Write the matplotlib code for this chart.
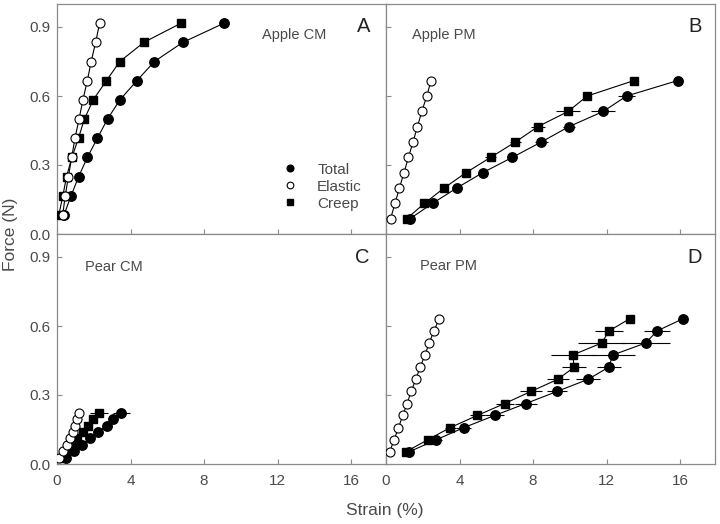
import matplotlib
matplotlib.use("Agg")
import matplotlib.pyplot as plt
from matplotlib.lines import Line2D

plt.rcParams["font.family"] = ["Liberation Sans", "DejaVu Sans"]

# ---- data (strain %, force N) ----
# A: Apple CM
force_a = [0.083, 0.167, 0.25, 0.333, 0.417, 0.5, 0.583, 0.667, 0.75, 0.833, 0.917]
total_a = [0.38, 0.77, 1.18, 1.65, 2.2, 2.75, 3.42, 4.35, 5.3, 6.84, 9.1]
total_a_err = [0, 0, 0, 0, 0, 0, 0.1, 0.1, 0.25, 0.15, 0]
elastic_a = [0.31, 0.45, 0.62, 0.8, 0.98, 1.2, 1.41, 1.65, 1.86, 2.1, 2.32]
creep_a = [0.1, 0.32, 0.52, 0.81, 1.17, 1.49, 1.97, 2.69, 3.42, 4.72, 6.76]
creep_a_err = [0, 0, 0, 0, 0, 0, 0, 0.1, 0.2, 0.2, 0]

# B: Apple PM
force_b = [0.067, 0.133, 0.2, 0.267, 0.333, 0.4, 0.467, 0.533, 0.6, 0.667]
total_b = [1.31, 2.53, 3.85, 5.27, 6.87, 8.45, 9.96, 11.82, 13.09, 15.87]
total_b_err = [0, 0.1, 0.1, 0.25, 0.2, 0.35, 0.35, 0.65, 0.45, 0]
elastic_b = [0.25, 0.49, 0.73, 0.98, 1.22, 1.47, 1.71, 1.95, 2.22, 2.45]
creep_b = [1.13, 2.09, 3.16, 4.36, 5.69, 7.04, 8.27, 9.91, 10.95, 13.49]
creep_b_err = [0, 0.1, 0.1, 0.2, 0.3, 0.3, 0.4, 0.65, 0, 0]

# C: Pear CM
force_c = [0.028, 0.056, 0.083, 0.111, 0.139, 0.167, 0.194, 0.222]
total_c = [0.49, 0.94, 1.34, 1.78, 2.22, 2.7, 3.06, 3.5]
total_c_err = [0, 0, 0, 0, 0, 0, 0, 0.45]
elastic_c = [0.12, 0.33, 0.55, 0.72, 0.87, 0.98, 1.08, 1.22]
creep_c = [0.3, 0.6, 0.85, 1.1, 1.4, 1.7, 1.95, 2.3]
creep_c_err = [0, 0, 0, 0, 0, 0, 0, 0.5]

# D: Pear PM
force_d = [0.053, 0.105, 0.158, 0.211, 0.263, 0.316, 0.368, 0.421, 0.474, 0.526, 0.579, 0.632]
total_d = [1.26, 2.72, 4.23, 5.91, 7.61, 9.32, 10.99, 12.12, 12.34, 14.12, 14.76, 16.17]
total_d_err = [0, 0.3, 0.4, 0.5, 0.6, 0.55, 0.65, 0.65, 1.2, 1.35, 0.7, 0]
elastic_d = [0.2, 0.44, 0.68, 0.91, 1.15, 1.37, 1.62, 1.86, 2.12, 2.35, 2.61, 2.9]
creep_d = [1.08, 2.26, 3.49, 4.96, 6.46, 7.9, 9.34, 10.24, 10.16, 11.73, 12.14, 13.27]
creep_d_err = [0, 0, 0.3, 0.4, 0.5, 0.6, 0.6, 0.65, 1.2, 1.3, 0.75, 0]

x_ticks = [0, 4, 8, 12, 16]
y_ticks = [0.0, 0.3, 0.6, 0.9]

GRAY = "#8a8a8a"
TXT = "#4a4a4a"


def draw(ax, force, total, total_err, elastic, creep, creep_err):
    ax.errorbar(total, force, xerr=total_err, fmt="-o", color="k", mfc="k", mec="k",
                ms=6.8, lw=0.8, elinewidth=0.8, capsize=0, zorder=3)
    ax.errorbar(creep, force, xerr=creep_err, fmt="-s", color="k", mfc="k", mec="k",
                ms=6.2, lw=0.8, elinewidth=0.8, capsize=0, zorder=3)
    ax.plot(elastic, force, "-o", color="k", mfc="white", mec="k", ms=6.5, lw=0.8,
            mew=0.8, zorder=4)


fig = plt.figure(figsize=(7.2, 5.24), dpi=100)
W, H = 720.0, 524.0
x0, xm, x1 = 57, 386, 715
y0, ym, y1 = 4, 234, 464
boxes = {
    "A": (x0, y0, xm, ym), "B": (xm, y0, x1, ym),
    "C": (x0, ym, xm, y1), "D": (xm, ym, x1, y1),
}
axes = {}
for k, (l, t, r, b) in boxes.items():
    axes[k] = fig.add_axes([l / W, 1 - b / H, (r - l) / W, (b - t) / H])

panels = {
    "A": (force_a, total_a, total_a_err, elastic_a, creep_a, creep_a_err),
    "B": (force_b, total_b, total_b_err, elastic_b, creep_b, creep_b_err),
    "C": (force_c, total_c, total_c_err, elastic_c, creep_c, creep_c_err),
    "D": (force_d, total_d, total_d_err, elastic_d, creep_d, creep_d_err),
}
names = {"A": "Apple CM", "B": "Apple PM", "C": "Pear CM", "D": "Pear PM"}
name_pos = {"A": (0.623, 0.865), "B": (0.079, 0.865), "C": (0.085, 0.857), "D": (0.103, 0.861)}
letter_pos = {"A": (0.951, 0.90), "B": (0.960, 0.90), "C": (0.951, 0.896), "D": (0.960, 0.896)}

for k, ax in axes.items():
    draw(ax, *panels[k])
    ax.set_xlim(0, 17.9)
    ax.set_ylim(0, 1.0)
    ax.set_xticks(x_ticks)
    ax.set_yticks(y_ticks)
    ax.set_yticklabels([f"{v:.1f}" for v in y_ticks])
    ax.tick_params(direction="in", length=3.5, width=0.8, color=GRAY, labelcolor=TXT,
                   labelsize=11)
    ax.tick_params(axis="x", pad=7.5)
    ax.tick_params(axis="y", pad=5)
    for s in ax.spines.values():
        s.set_color(GRAY)
        s.set_linewidth(0.9)
    if k in ("A", "B"):
        ax.tick_params(labelbottom=False)
    if k in ("B", "D"):
        ax.tick_params(labelleft=False)
    ax.text(*name_pos[k], names[k], transform=ax.transAxes, fontsize=10.5,
            color=TXT, ha="left", va="center")
    ax.text(*letter_pos[k], k, transform=ax.transAxes, fontsize=14.5,
            color="#222222", ha="right", va="center")

handles = [
    Line2D([], [], ls="none", marker="o", color="k", mfc="k", ms=4.8),
    Line2D([], [], ls="none", marker="o", color="k", mfc="white", ms=4.8, mew=0.8),
    Line2D([], [], ls="none", marker="s", color="k", mfc="k", ms=4.4),
]
axes["A"].legend(handles, ["Total", "Elastic", "Creep"], loc="upper left",
                 bbox_to_anchor=(0.684, 0.31), frameon=False, fontsize=11,
                 handlelength=1.0, handletextpad=1.3, labelspacing=0.2,
                 borderpad=0, borderaxespad=0, labelcolor=TXT)

fig.text(0.014, 1 - 234 / H, "Force (N)", rotation=90, ha="center", va="center",
         fontsize=12.5, color=TXT)
fig.text(0.535, 0.025, "Strain (%)", ha="center", va="center", fontsize=12.5, color=TXT)

fig.savefig("out.png", dpi=100)
